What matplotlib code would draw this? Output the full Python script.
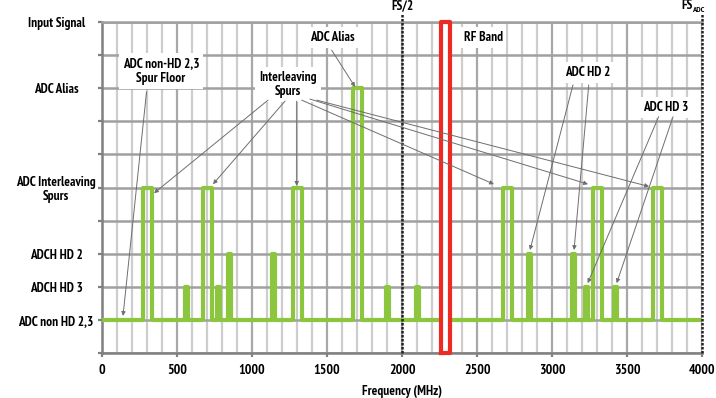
import matplotlib
matplotlib.use("Agg")
import matplotlib.pyplot as plt
from matplotlib.ticker import MultipleLocator

plt.rcParams["font.family"] = ["PT Sans Narrow", "DejaVu Sans"]
plt.rcParams["font.weight"] = "bold"

# --- chart data -------------------------------------------------------------
LEVEL_VALUES = [1, 2, 3, 5, 8, 10]
LEVEL_LABELS = ["ADC non HD 2,3", "ADCH HD 3", "ADCH HD 2",
                "ADC Interleaving\nSpurs", "ADC Alias", "Input Signal"]
X_TICKS = [0, 500, 1000, 1500, 2000, 2500, 3000, 3500, 4000]

FLOOR_LEVEL = 1
SPAN = [0, 4000]

SPUR_CENTERS = [300, 565, 700, 775, 850, 1145, 1300, 1700, 1900, 2100,
                2700, 2850, 3145, 3230, 3300, 3425, 3700]
SPUR_WIDTHS = [60, 20, 60, 20, 20, 20, 60, 60, 20, 20,
               60, 20, 20, 25, 60, 20, 60]
SPUR_LEVELS = [5, 2, 5, 2, 3, 3, 5, 8, 2, 2,
               5, 3, 3, 2, 5, 2, 5]

RF_BAND = [2260, 2320]
FS_HALF = 2000
FS_ADC = 4000

GREEN = "#8cc63f"
RED = "#ee2a24"
ARROW = "#6e6e6e"
FS = 9.5

# --- figure -----------------------------------------------------------------
fig = plt.figure(figsize=(7.16, 3.98), dpi=100)
ax = fig.add_axes([102 / 716, 1 - 353 / 398, 600 / 716, 331 / 398])
ax.set_xlim(*SPAN)
ax.set_ylim(0, 10)

# grid
ax.xaxis.set_major_locator(plt.FixedLocator(X_TICKS))
ax.xaxis.set_minor_locator(MultipleLocator(100))
ax.yaxis.set_minor_locator(MultipleLocator(1))
ax.grid(axis="x", which="major", color="#a8a8a8", lw=1.6, zorder=0)
ax.grid(axis="x", which="minor", color="#cdcdcd", lw=1.6, zorder=0)
ax.grid(axis="y", which="both", color="#a0a0a0", lw=1.8, zorder=0)
ax.set_axisbelow(True)

ax.set_xticks(X_TICKS)
ax.set_xticklabels([str(v) for v in X_TICKS], fontsize=FS + 0.5, fontweight="bold")
ax.set_yticks(LEVEL_VALUES)
ax.set_yticklabels(LEVEL_LABELS, fontsize=FS, fontweight="bold", linespacing=1.1)
for t in ax.get_yticklabels():
    t.set_ha("center")
    t.set_multialignment("center")
ax.tick_params(axis="y", which="both", length=3, width=1.6, color="#808080", pad=30)
ax.tick_params(axis="x", which="major", length=3, width=1.6, color="#808080", pad=5)
ax.tick_params(axis="x", which="minor", length=0)
ax.set_xlabel("Frequency (MHz)", fontsize=FS, fontweight="bold", labelpad=6)

for side in ("left", "bottom"):
    ax.spines[side].set_color("#808080")
    ax.spines[side].set_linewidth(1.8)
ax.spines["top"].set_color("#a0a0a0")
ax.spines["top"].set_linewidth(1.8)
ax.spines["right"].set_visible(False)

# spectrum trace: spur floor with rectangular spurs
xs, ys = [SPAN[0]], [FLOOR_LEVEL]
for c, w, h in sorted(zip(SPUR_CENTERS, SPUR_WIDTHS, SPUR_LEVELS)):
    xs += [c - w / 2, c - w / 2, c + w / 2, c + w / 2]
    ys += [FLOOR_LEVEL, h, h, FLOOR_LEVEL]
xs.append(SPAN[1])
ys.append(FLOOR_LEVEL)
ax.plot(xs, ys, color=GREEN, lw=3, solid_joinstyle="round",
        solid_capstyle="butt", zorder=3)

# RF band
ax.fill_between(RF_BAND, 0, 10, color="white", zorder=4)
ax.plot([RF_BAND[0], RF_BAND[0], RF_BAND[1], RF_BAND[1], RF_BAND[0]],
        [0, 10, 10, 0, 0], color=RED, lw=3, zorder=5, clip_on=False)

# Nyquist markers
for fx in (FS_HALF, FS_ADC):
    ax.plot([fx, fx], [0, 10.25], color="#222222", lw=1.8, ls=(0, (1, 0.6)),
            zorder=6, clip_on=False)
ax.text(FS_HALF, 10.3, "FS/2", ha="center", va="bottom", fontsize=FS,
        fontweight="bold")
ax.annotate("FS", xy=(FS_ADC, 10.3), xytext=(-7, 0), textcoords="offset points",
            ha="right", va="bottom", fontsize=FS, fontweight="bold",
            annotation_clip=False)
ax.annotate("ADC", xy=(FS_ADC, 10.3), xytext=(-7, -1.5), textcoords="offset points",
            ha="left", va="bottom", fontsize=6, fontweight="bold",
            annotation_clip=False)

# callouts
box = dict(boxstyle="square,pad=0.3", fc="white", ec="none")
labels = [
    ("ADC non-HD 2,3\nSpur Floor", (393, 8.52)),
    ("Interleaving\nSpurs", (1240, 8.11)),
    ("ADC Alias", (1537, 9.52)),
    ("RF Band", (2540, 9.52)),
    ("ADC HD 2", (3240, 8.47)),
    ("ADC HD 3", (3760, 7.41)),
]
for text, (tx, ty) in labels:
    ax.text(tx, ty, text, ha="center", va="center", fontsize=FS,
            fontweight="bold", bbox=box, zorder=7, linespacing=1.15)

arrows = [
    ((297, 7.89), (140, 1.12)),
    ((1107, 7.64), (347, 4.83)),
    ((1220, 7.61), (740, 5.1)),
    ((1298, 7.61), (1298, 5.05)),
    ((1331, 7.64), (2613, 5.1)),
    ((1387, 7.67), (3240, 5.1)),
    ((1431, 7.64), (3647, 5.03)),
    ((1531, 9.15), (1687, 8.04)),
    ((3140, 8.1), (2853, 3.11)),
    ((3245, 8.1), (3147, 3.11)),
    ((3711, 7.14), (3238, 2.11)),
    ((3807, 7.14), (3431, 2.11)),
]
for start, end in arrows:
    ax.annotate("", xy=end, xytext=start, zorder=8,
                arrowprops=dict(arrowstyle="-|>", color=ARROW, lw=0.7,
                                mutation_scale=6, shrinkA=0, shrinkB=0))

fig.savefig("out.png", dpi=100, facecolor="white")
